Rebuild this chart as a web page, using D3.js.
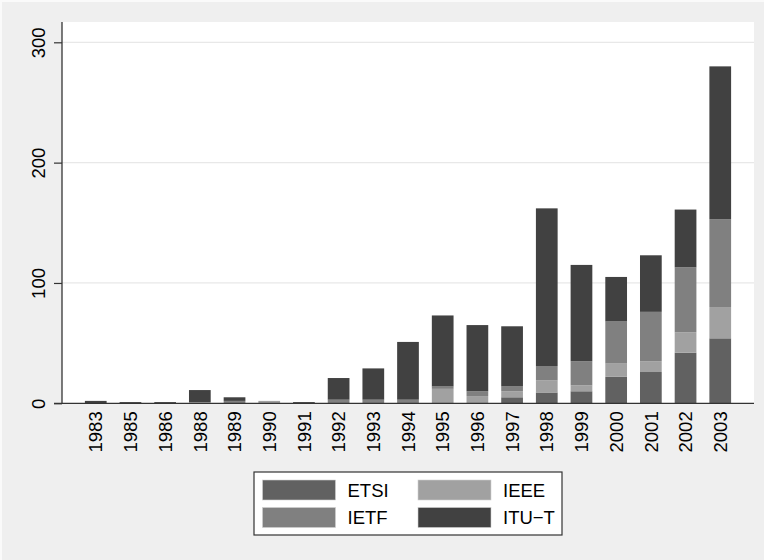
<!DOCTYPE html>
<html>
<head>
<meta charset="utf-8">
<script src="https://cdn.jsdelivr.net/npm/d3@7"></script>
<style>
  html,body{margin:0;padding:0;background:#fff;}
  svg{display:block;font-family:"Liberation Sans",Arial,sans-serif;}
</style>
</head>
<body>
<svg id="chart" width="764" height="560"></svg>
<script>
/* data */
var years = ['1983','1985','1986','1988','1989','1990','1991','1992','1993','1994',
             '1995','1996','1997','1998','1999','2000','2001','2002','2003'];
var etsi = [0,0,0,0,0,0,0,0,0,0, 0,0,5,9,10,22,26,42,54];
var ieee = [0,0,0,1,0,2,0,0,0,0, 12,6,5,10,5,11,9,17,26];
var ietf = [0,0,0,0,2,0,0,3,3,3, 2,4,4,12,20,35,41,54,73];
var itut = [2,1,1,10,3,0,1,18,26,48, 59,55,50,131,80,37,47,48,127];
var seriesNames = ['ETSI','IEEE','IETF','ITU\u2212T'];
var yTicks = [0,100,200,300];

var colors = {'ETSI':'#616161','IEEE':'#a1a1a1','IETF':'#808080','ITU\u2212T':'#414141'};

var W=764, H=560;
var PL=62, PR=754, PT=22, PB=403.3;

var svg=d3.select('#chart');

/* backgrounds */
svg.append('rect').attr('x',0).attr('y',0).attr('width',W).attr('height',H).attr('fill','#fafafa');
svg.append('rect').attr('x',2).attr('y',2).attr('width',W-2).attr('height',H-2).attr('fill','#efefef');
svg.append('rect').attr('x',PL).attr('y',PT).attr('width',PR-PL).attr('height',PB-PT).attr('fill','#fff');

var x=d3.scaleBand().domain(years).range([PL,PR]).paddingInner(0.374).paddingOuter(0.66);
var y=d3.scaleLinear().domain([0,300]).range([PB,42.3]);

/* grid */
svg.append('g').selectAll('line').data(yTicks.filter(function(d){return d>0}))
  .enter().append('line')
  .attr('x1',PL).attr('x2',PR).attr('y1',function(d){return y(d)}).attr('y2',function(d){return y(d)})
  .attr('stroke','#e8e8e8').attr('stroke-width',1.3);

/* stacked bars */
var table=years.map(function(yr,i){
  return {year:yr,'ETSI':etsi[i],'IEEE':ieee[i],'IETF':ietf[i],'ITU\u2212T':itut[i]};
});
var stack=d3.stack().keys(seriesNames)(table);

svg.append('g').selectAll('g').data(stack).enter().append('g')
  .attr('fill',function(s){return colors[s.key]})
  .selectAll('rect').data(function(s){return s}).enter()
  .filter(function(d){return d[1]-d[0]>0})
  .append('rect')
  .attr('x',function(d){return x(d.data.year)})
  .attr('width',x.bandwidth())
  .attr('y',function(d){return y(d[1])})
  .attr('height',function(d){return y(d[0])-y(d[1])});

/* y axis */
var yAx=svg.append('g').attr('transform','translate('+PL+',0)')
  .call(d3.axisLeft(y).tickValues(yTicks).tickSize(8).tickPadding(0).tickFormat(d3.format('d')));
yAx.select('.domain').remove();
yAx.selectAll('.tick line').attr('stroke','#333').attr('stroke-width',1.2);
yAx.selectAll('.tick text').remove();
yAx.selectAll('.tick').append('text')
  .attr('transform','translate(-17,0) rotate(-90)')
  .attr('text-anchor','middle').attr('fill','#000')
  .attr('font-size','18.5px').attr('font-family','Liberation Sans,Arial,sans-serif')
  .text(function(d){return d});
svg.append('line').attr('x1',PL).attr('x2',PL).attr('y1',PT).attr('y2',PB)
  .attr('stroke','#333').attr('stroke-width',1.3);

/* x axis */
var xAx=svg.append('g').attr('transform','translate(0,'+PB+')')
  .call(d3.axisBottom(x).tickSize(0).tickPadding(0));
xAx.select('.domain').remove();
xAx.selectAll('.tick text').remove();
xAx.selectAll('.tick').append('text')
  .attr('transform','translate(0,8) rotate(-90)')
  .attr('text-anchor','end').attr('dy','0.36em').attr('fill','#000')
  .attr('font-size','18.5px').attr('font-family','Liberation Sans,Arial,sans-serif')
  .text(function(d){return d});
svg.append('line').attr('x1',PL-8).attr('x2',PR).attr('y1',PB).attr('y2',PB)
  .attr('stroke','#333').attr('stroke-width',1.3);

/* legend */
var LX=254, LY=472, LW=308, LH=63;
var lg=svg.append('g');
lg.append('rect').attr('x',LX).attr('y',LY).attr('width',LW).attr('height',LH)
  .attr('fill','#fff').attr('stroke','#333').attr('stroke-width',1.2);
var legOrder=['ETSI','IEEE','IETF','ITU\u2212T'];
legOrder.forEach(function(k,i){
  var col=i%2, row=Math.floor(i/2);
  var sx=LX+8.5+col*155.5, sy=LY+8+row*27.5;
  lg.append('rect').attr('x',sx).attr('y',sy).attr('width',73).attr('height',20)
    .attr('fill',colors[k]).attr('stroke','#d0d0d0').attr('stroke-width',0.6);
  lg.append('text').attr('x',sx+85).attr('y',sy+10).attr('dy','0.36em')
    .attr('font-size','18.5px').attr('font-family','Liberation Sans,Arial,sans-serif')
    .attr('fill','#000').text(k);
});
</script>
</body>
</html>
